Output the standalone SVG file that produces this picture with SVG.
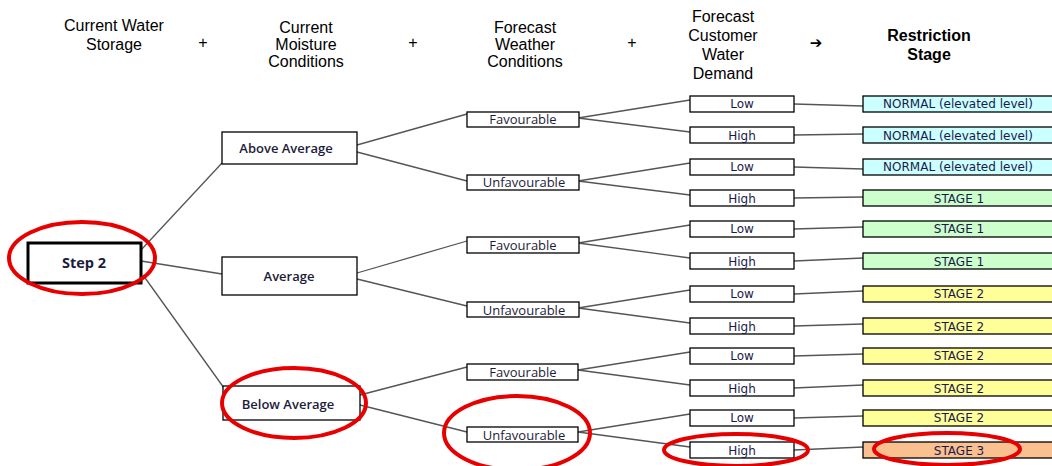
<svg xmlns="http://www.w3.org/2000/svg" width="1052" height="466" viewBox="0 0 1052 466">
<style>
.hd{font-family:"Liberation Sans",Arial,sans-serif;font-size:16px;fill:#000;text-anchor:middle}
.hb{font-weight:bold}
.box{fill:#fff;stroke:#000;stroke-width:1.3}
.nl{font-family:"Open Sans","Liberation Sans",sans-serif;font-size:13px;font-weight:600;fill:#1c1c3a;text-anchor:middle}
.wl{font-family:"Open Sans","Liberation Sans",sans-serif;font-size:13px;fill:#1c1c3a;text-anchor:middle}
.dl{font-family:"DejaVu Sans",Verdana,sans-serif;font-size:12px;fill:#1a1a4a;text-anchor:middle}
.c line{stroke:#555;stroke-width:1.3}
.n{fill:#ccffff}.s1{fill:#ccffcc}.s2{fill:#ffff99}.s3{fill:#fac090}
.rb{stroke:#000;stroke-width:1.3}
.ring{fill:none;stroke:#e80000;stroke-width:4}
</style>
<g id="headers">
<text class="hd" x="114" y="31">Current Water</text>
<text class="hd" x="114" y="50">Storage</text>
<text class="hd" x="203" y="48">+</text>
<text class="hd" x="306" y="33">Current</text>
<text class="hd" x="306" y="50">Moisture</text>
<text class="hd" x="306" y="67">Conditions</text>
<text class="hd" x="413" y="48">+</text>
<text class="hd" x="525" y="33">Forecast</text>
<text class="hd" x="525" y="50">Weather</text>
<text class="hd" x="525" y="67">Conditions</text>
<text class="hd" x="632" y="48">+</text>
<text class="hd" x="723" y="22">Forecast</text>
<text class="hd" x="723" y="41">Customer</text>
<text class="hd" x="723" y="60">Water</text>
<text class="hd" x="723" y="79">Demand</text>
<text class="hd" x="816" y="48" style="font-family:'DejaVu Sans',sans-serif;font-size:15px;font-weight:bold">➔</text>
<text class="hd hb" x="929" y="41">Restriction</text>
<text class="hd hb" x="929" y="60">Stage</text>
</g>
<g class="c" id="connectors">
<line x1="141" y1="250" x2="222" y2="163"/>
<line x1="141" y1="261" x2="222" y2="274"/>
<line x1="143" y1="275" x2="224" y2="388"/>
<line x1="357" y1="145" x2="467" y2="114"/>
<line x1="357" y1="152" x2="467" y2="181"/>
<line x1="357" y1="273" x2="467" y2="241"/>
<line x1="357" y1="279" x2="467" y2="306"/>
<line x1="360" y1="395" x2="467" y2="367"/>
<line x1="360" y1="405" x2="467" y2="432"/>
<line x1="578" y1="118" x2="690" y2="100"/>
<line x1="578" y1="118" x2="690" y2="132"/>
<line x1="578" y1="181" x2="690" y2="163"/>
<line x1="578" y1="181" x2="690" y2="195"/>
<line x1="578" y1="243" x2="690" y2="225"/>
<line x1="578" y1="243" x2="690" y2="258"/>
<line x1="578" y1="308" x2="690" y2="290"/>
<line x1="578" y1="308" x2="690" y2="323"/>
<line x1="578" y1="370" x2="690" y2="352"/>
<line x1="578" y1="370" x2="690" y2="385"/>
<line x1="578" y1="432" x2="690" y2="414"/>
<line x1="578" y1="432" x2="690" y2="447"/>
<line x1="794" y1="104" x2="863" y2="106"/>
<line x1="794" y1="135" x2="863" y2="134"/>
<line x1="794" y1="167" x2="863" y2="169"/>
<line x1="794" y1="198" x2="863" y2="197"/>
<line x1="794" y1="229" x2="863" y2="227"/>
<line x1="794" y1="261" x2="863" y2="258"/>
<line x1="794" y1="294" x2="863" y2="291"/>
<line x1="794" y1="326" x2="863" y2="324"/>
<line x1="794" y1="356" x2="863" y2="354"/>
<line x1="794" y1="388" x2="863" y2="385"/>
<line x1="794" y1="418" x2="863" y2="416"/>
<line x1="794" y1="450" x2="863" y2="447"/>
</g>
<g id="step2"><rect x="28" y="243" width="113" height="40" fill="#fff" stroke="#000" stroke-width="3"/><text class="nl" x="84" y="268" style="font-size:14.5px;font-weight:bold">Step 2</text></g>
<g id="above"><rect class="box" x="222" y="132" width="135" height="32"/><text class="nl" x="286" y="153">Above Average</text></g>
<g id="average"><rect class="box" x="222" y="257" width="135" height="38"/><text class="nl" x="289" y="281">Average</text></g>
<g id="below"><rect class="box" x="223" y="386" width="137" height="34"/><text class="nl" x="288" y="409">Below Average</text></g>
<g id="fav1"><rect class="box" x="467" y="112" width="112" height="15"/><text class="wl" x="523" y="124">Favourable</text></g>
<g id="unf1"><rect class="box" x="467" y="175" width="112" height="15"/><text class="wl" x="524" y="187">Unfavourable</text></g>
<g id="fav2"><rect class="box" x="467" y="237" width="112" height="16"/><text class="wl" x="523" y="250">Favourable</text></g>
<g id="unf2"><rect class="box" x="467" y="302" width="112" height="15"/><text class="wl" x="524" y="315">Unfavourable</text></g>
<g id="fav3"><rect class="box" x="467" y="364" width="111" height="16"/><text class="wl" x="523" y="377">Favourable</text></g>
<g id="unf3"><rect class="box" x="467" y="427" width="111" height="15"/><text class="wl" x="524" y="440">Unfavourable</text></g>
<g id="d1"><rect class="box" x="690" y="96" width="104" height="16"/><text class="dl" x="742" y="108">Low</text></g>
<g id="d2"><rect class="box" x="690" y="127" width="104" height="16"/><text class="dl" x="742" y="140">High</text></g>
<g id="d3"><rect class="box" x="690" y="159" width="104" height="16"/><text class="dl" x="742" y="171">Low</text></g>
<g id="d4"><rect class="box" x="690" y="190" width="104" height="16"/><text class="dl" x="742" y="203">High</text></g>
<g id="d5"><rect class="box" x="690" y="221" width="104" height="16"/><text class="dl" x="742" y="233">Low</text></g>
<g id="d6"><rect class="box" x="690" y="253" width="104" height="16"/><text class="dl" x="742" y="266">High</text></g>
<g id="d7"><rect class="box" x="690" y="286" width="104" height="16"/><text class="dl" x="742" y="298">Low</text></g>
<g id="d8"><rect class="box" x="690" y="318" width="104" height="16"/><text class="dl" x="742" y="331">High</text></g>
<g id="d9"><rect class="box" x="690" y="348" width="104" height="16"/><text class="dl" x="742" y="360">Low</text></g>
<g id="d10"><rect class="box" x="690" y="380" width="104" height="16"/><text class="dl" x="742" y="393">High</text></g>
<g id="d11"><rect class="box" x="690" y="410" width="104" height="16"/><text class="dl" x="742" y="422">Low</text></g>
<g id="d12"><rect class="box" x="690" y="442" width="104" height="16"/><text class="dl" x="742" y="455">High</text></g>
<g id="r1"><rect class="rb n" x="863" y="96" width="195" height="16"/><text class="dl" x="958" y="108">NORMAL (elevated level)</text></g>
<g id="r2"><rect class="rb n" x="863" y="127" width="195" height="16"/><text class="dl" x="958" y="140">NORMAL (elevated level)</text></g>
<g id="r3"><rect class="rb n" x="863" y="159" width="195" height="16"/><text class="dl" x="958" y="171">NORMAL (elevated level)</text></g>
<g id="r4"><rect class="rb s1" x="863" y="190" width="195" height="16"/><text class="dl" x="959" y="203">STAGE 1</text></g>
<g id="r5"><rect class="rb s1" x="863" y="221" width="195" height="16"/><text class="dl" x="959" y="233">STAGE 1</text></g>
<g id="r6"><rect class="rb s1" x="863" y="253" width="195" height="16"/><text class="dl" x="959" y="266">STAGE 1</text></g>
<g id="r7"><rect class="rb s2" x="863" y="286" width="195" height="16"/><text class="dl" x="959" y="298">STAGE 2</text></g>
<g id="r8"><rect class="rb s2" x="863" y="318" width="195" height="16"/><text class="dl" x="959" y="331">STAGE 2</text></g>
<g id="r9"><rect class="rb s2" x="863" y="348" width="195" height="16"/><text class="dl" x="959" y="360">STAGE 2</text></g>
<g id="r10"><rect class="rb s2" x="863" y="380" width="195" height="16"/><text class="dl" x="959" y="393">STAGE 2</text></g>
<g id="r11"><rect class="rb s2" x="863" y="410" width="195" height="16"/><text class="dl" x="959" y="422">STAGE 2</text></g>
<g id="r12"><rect class="rb s3" x="863" y="442" width="195" height="16"/><text class="dl" x="959" y="455">STAGE 3</text></g>
<g id="highlights">
<ellipse class="ring" cx="82" cy="258" rx="73" ry="36"/>
<ellipse class="ring" cx="294" cy="403" rx="72" ry="35"/>
<ellipse class="ring" cx="517" cy="433" rx="73" ry="37"/>
<ellipse class="ring" cx="736" cy="450" rx="72" ry="16"/>
<ellipse class="ring" cx="947" cy="449" rx="73" ry="16"/>
</g>
</svg>
